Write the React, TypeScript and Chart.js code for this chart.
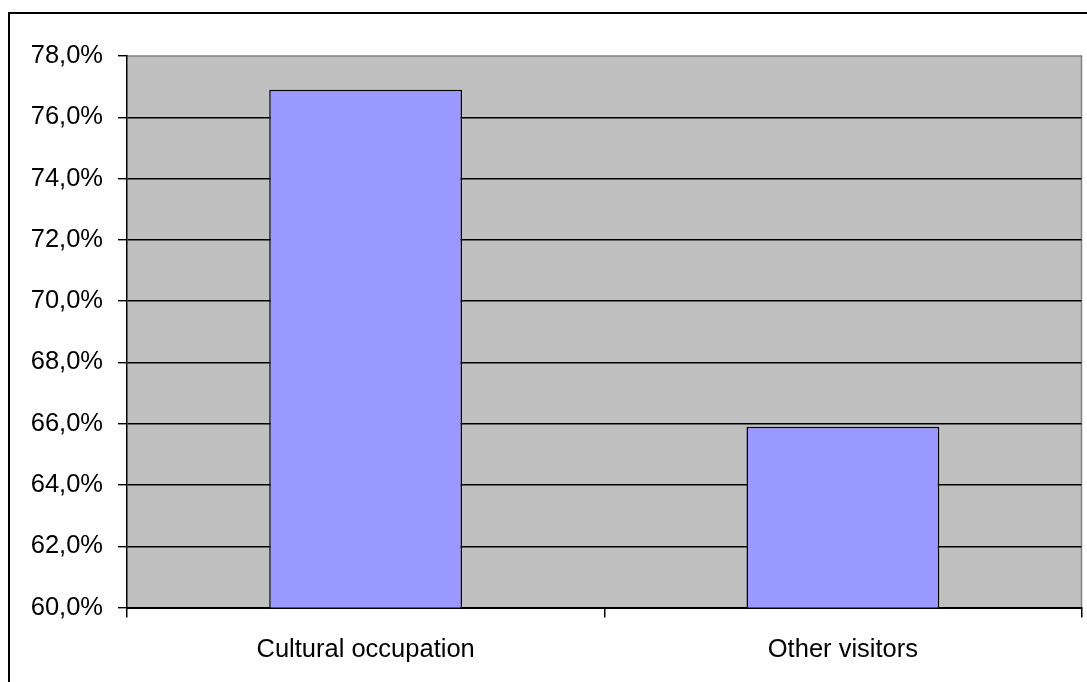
import React, { useEffect, useRef } from "react";
import { Chart, registerables } from "chart.js";

Chart.register(...registerables);

const categories: string[] = ["Cultural occupation", "Other visitors"];
const shares: number[] = [76.9, 65.9];
const yMin = 60;
const yMax = 78;
const yStep = 2;

const FONT = "'Liberation Sans', Arial, sans-serif";

const plotBg = {
  id: "plotBg",
  beforeDraw(chart: any) {
    const { ctx, chartArea } = chart;
    if (!chartArea) return;
    const { left, top, right, bottom } = chartArea;
    ctx.save();
    ctx.fillStyle = "#C0C0C0";
    ctx.fillRect(left, top, right - left, bottom - top);
    ctx.strokeStyle = "#808080";
    ctx.lineWidth = 1.5;
    ctx.beginPath();
    ctx.moveTo(left, top);
    ctx.lineTo(right, top);
    ctx.lineTo(right, bottom);
    ctx.stroke();
    ctx.restore();
  },
};

export default function App() {
  const ref = useRef<HTMLCanvasElement | null>(null);

  useEffect(() => {
    if (!ref.current) return;
    const chart = new Chart(ref.current, {
      type: "bar",
      data: {
        labels: categories,
        datasets: [
          {
            data: shares,
            backgroundColor: "#9999FF",
            borderColor: "#000000",
            borderWidth: 1.5,
            barPercentage: 0.404,
            categoryPercentage: 1,
          },
        ],
      },
      options: {
        animation: false,
        responsive: false,
        devicePixelRatio: 1,
        layout: { padding: { top: 56, right: 5.5, left: 0, bottom: 0 } },
        plugins: {
          legend: { display: false },
          tooltip: { enabled: false },
          title: { display: false },
        },
        scales: {
          x: {
            grid: {
              offset: true,
              drawOnChartArea: false,
              color: "#000000",
              tickLength: 10,
              lineWidth: 1.5,
            },
            border: { color: "#000000", width: 2 },
            ticks: {
              color: "#000000",
              font: { family: FONT, size: 25.5 },
              padding: 17,
              maxRotation: 0,
            },
            afterFit(scale: any) {
              scale.height = 682 - 607.5;
            },
          },
          y: {
            min: yMin,
            max: yMax,
            grid: {
              color: (c: any) => (c.tick && c.tick.value === yMax ? "rgba(0,0,0,0)" : "#000000"),
              tickColor: "#000000",
              tickLength: 9,
              lineWidth: 1.4,
            },
            border: { color: "#000000", width: 1.5 },
            ticks: {
              stepSize: yStep,
              color: "#000000",
              font: { family: FONT, size: 25.5 },
              padding: 15,
              callback: (v: any) => Number(v).toFixed(1).replace(".", ",") + "%",
            },
            afterFit(scale: any) {
              scale.width = 127;
            },
          },
        },
      },
      plugins: [plotBg],
    });
    return () => chart.destroy();
  }, []);

  return (
    <div
      style={{
        position: "fixed",
        left: 0,
        top: 0,
        width: 1087,
        height: 682,
        background: "#ffffff",
        overflow: "hidden",
      }}
    >
      <canvas ref={ref} width={1087} height={682} style={{ display: "block" }} />
      <div
        style={{
          position: "absolute",
          left: 7.5,
          top: 12,
          width: 1200,
          height: 800,
          borderLeft: "2px solid #000",
          borderTop: "2px solid #000",
          pointerEvents: "none",
        }}
      />
    </div>
  );
}
